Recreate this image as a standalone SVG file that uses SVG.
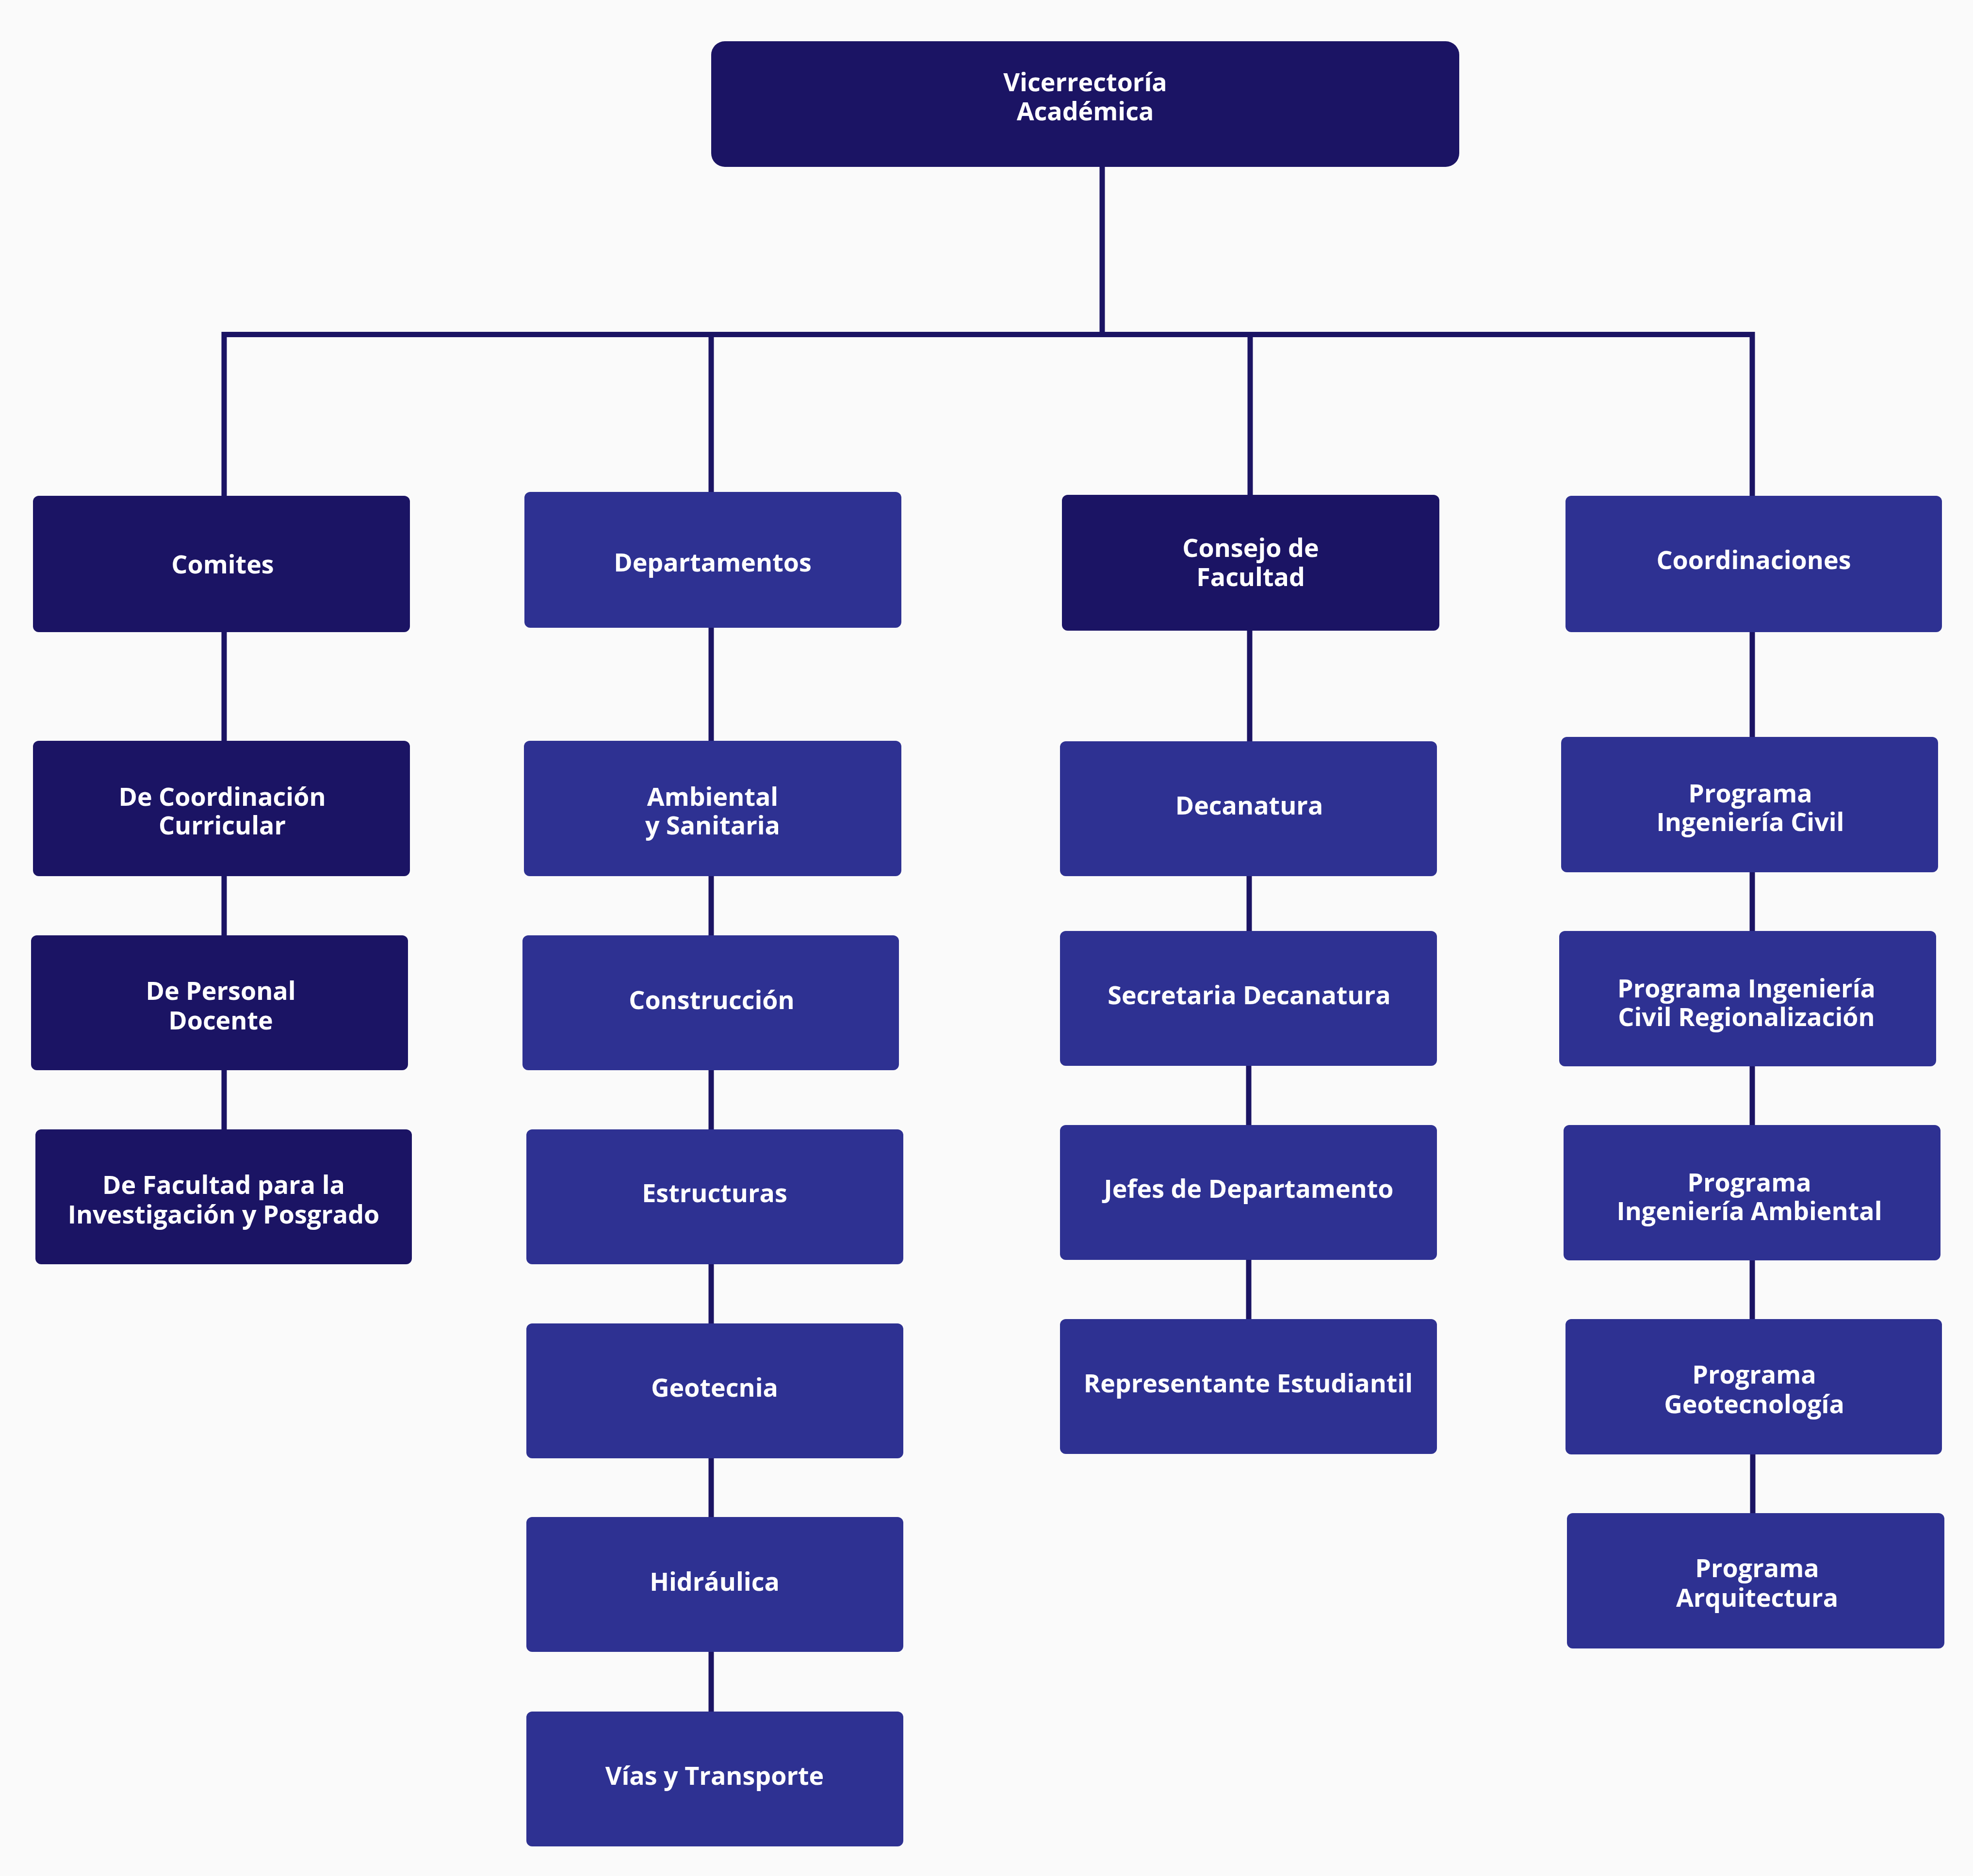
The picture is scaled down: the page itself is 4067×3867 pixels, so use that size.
<svg xmlns="http://www.w3.org/2000/svg" width="4067" height="3867" viewBox="0 0 4067 3867">
<style>
.dark{fill:#1b1464}
.med{fill:#2e3192}
.lbl{font-family:"Open Sans","Noto Sans","DejaVu Sans",sans-serif;font-weight:700;font-size:52px;fill:#ffffff;text-anchor:middle}
.conn{fill:none;stroke:#1b1464;stroke-width:11;stroke-linejoin:miter}
</style>
<rect width="4067" height="3867" fill="#fafafa"/>
<g id="connectors">
<path class="conn" d="M2272,344 V689.5"/>
<path class="conn" d="M462,1022 V689.5 H3612 V1022"/>
<path class="conn" d="M1466,689.5 V1014"/>
<path class="conn" d="M2577,689.5 V1020"/>
<path class="conn" d="M462,1303 V1527"/>
<path class="conn" d="M462,1805 V1928"/>
<path class="conn" d="M462,2206 V2328"/>
<path class="conn" d="M1466,1294 V1527"/>
<path class="conn" d="M1466,1806 V1928"/>
<path class="conn" d="M1466,2206 V2328"/>
<path class="conn" d="M1466,2606 V2728"/>
<path class="conn" d="M1466,3006 V3127"/>
<path class="conn" d="M1466,3405 V3528"/>
<path class="conn" d="M2576,1300 V1528"/>
<path class="conn" d="M2575,1806 V1919"/>
<path class="conn" d="M2574,2197 V2319"/>
<path class="conn" d="M2574,2597 V2719"/>
<path class="conn" d="M3612,1303 V1519"/>
<path class="conn" d="M3612,1798 V1919"/>
<path class="conn" d="M3612,2198 V2319"/>
<path class="conn" d="M3612,2598 V2719"/>
<path class="conn" d="M3613,2998 V3119"/>
</g>
<g id="n-vicerrectoria"><rect class="dark" x="1466" y="85" width="1542" height="259" rx="28"/><text class="lbl" x="2237" y="188">Vicerrectoría<tspan x="2237" dy="60">Académica</tspan></text></g>
<g id="n-comites"><rect class="dark" x="68" y="1022" width="777" height="281" rx="12"/><text class="lbl" x="459" y="1182">Comites</text></g>
<g id="n-departamentos"><rect class="med" x="1081" y="1014" width="777" height="280" rx="12"/><text class="lbl" x="1469" y="1178">Departamentos</text></g>
<g id="n-consejo"><rect class="dark" x="2189" y="1020" width="778" height="280" rx="12"/><text class="lbl" x="2578" y="1148">Consejo de<tspan x="2578" dy="60">Facultad</tspan></text></g>
<g id="n-coordinaciones"><rect class="med" x="3227" y="1022" width="776" height="281" rx="12"/><text class="lbl" x="3615" y="1173">Coordinaciones</text></g>
<g id="n-coord-curricular"><rect class="dark" x="68" y="1527" width="777" height="279" rx="12"/><text class="lbl" x="458" y="1661">De Coordinación<tspan x="458" dy="59">Curricular</tspan></text></g>
<g id="n-personal-docente"><rect class="dark" x="64" y="1928" width="777" height="278" rx="12"/><text class="lbl" x="455" y="2061">De Personal<tspan x="455" dy="61">Docente</tspan></text></g>
<g id="n-facultad-investigacion"><rect class="dark" x="73" y="2328" width="776" height="278" rx="12"/><text class="lbl" x="461" y="2461">De Facultad para la<tspan x="461" dy="61">Investigación y Posgrado</tspan></text></g>
<g id="n-ambiental"><rect class="med" x="1080" y="1527" width="778" height="279" rx="12"/><text class="lbl" x="1469" y="1661">Ambiental<tspan x="1469" dy="59">y Sanitaria</tspan></text></g>
<g id="n-construccion"><rect class="med" x="1077" y="1928" width="776" height="278" rx="12"/><text class="lbl" x="1467" y="2080">Construcción</text></g>
<g id="n-estructuras"><rect class="med" x="1085" y="2328" width="777" height="278" rx="12"/><text class="lbl" x="1473" y="2478">Estructuras</text></g>
<g id="n-geotecnia"><rect class="med" x="1085" y="2728" width="777" height="278" rx="12"/><text class="lbl" x="1473" y="2879">Geotecnia</text></g>
<g id="n-hidraulica"><rect class="med" x="1085" y="3127" width="777" height="278" rx="12"/><text class="lbl" x="1473" y="3279">Hidráulica</text></g>
<g id="n-vias"><rect class="med" x="1085" y="3528" width="777" height="278" rx="12"/><text class="lbl" x="1473" y="3679">Vías y Transporte</text></g>
<g id="n-decanatura"><rect class="med" x="2185" y="1528" width="777" height="278" rx="12"/><text class="lbl" x="2575" y="1679">Decanatura</text></g>
<g id="n-secretaria"><rect class="med" x="2185" y="1919" width="777" height="278" rx="12"/><text class="lbl" x="2575" y="2070">Secretaria Decanatura</text></g>
<g id="n-jefes"><rect class="med" x="2185" y="2319" width="777" height="278" rx="12"/><text class="lbl" x="2574" y="2469">Jefes de Departamento</text></g>
<g id="n-representante"><rect class="med" x="2185" y="2719" width="777" height="278" rx="12"/><text class="lbl" x="2573" y="2870">Representante Estudiantil</text></g>
<g id="n-prog-civil"><rect class="med" x="3218" y="1519" width="777" height="279" rx="12"/><text class="lbl" x="3608" y="1654">Programa<tspan x="3608" dy="59">Ingeniería Civil</tspan></text></g>
<g id="n-prog-civil-reg"><rect class="med" x="3214" y="1919" width="777" height="279" rx="12"/><text class="lbl" x="3600" y="2056">Programa Ingeniería<tspan x="3600" dy="59">Civil Regionalización</tspan></text></g>
<g id="n-prog-ambiental"><rect class="med" x="3223" y="2319" width="777" height="279" rx="12"/><text class="lbl" x="3606" y="2456">Programa<tspan x="3606" dy="59">Ingeniería Ambiental</tspan></text></g>
<g id="n-prog-geotecnologia"><rect class="med" x="3227" y="2719" width="776" height="279" rx="12"/><text class="lbl" x="3616" y="2852">Programa<tspan x="3616" dy="61">Geotecnología</tspan></text></g>
<g id="n-prog-arquitectura"><rect class="med" x="3230" y="3119" width="778" height="279" rx="12"/><text class="lbl" x="3622" y="3251">Programa<tspan x="3622" dy="61">Arquitectura</tspan></text></g>
</svg>
